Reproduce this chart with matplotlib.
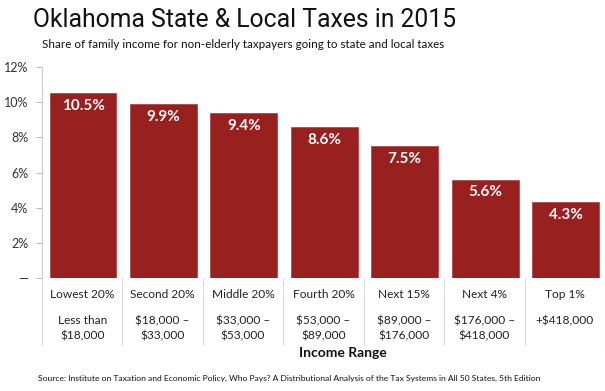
import matplotlib
matplotlib.use("Agg")
import matplotlib.pyplot as plt
from matplotlib.transforms import blended_transform_factory

groups = ["Lowest 20%", "Second 20%", "Middle 20%", "Fourth 20%", "Next 15%", "Next 4%", "Top 1%"]
ranges = ["Less than\n$18,000", "$18,000 \u2013\n$33,000", "$33,000 \u2013\n$53,000",
          "$53,000 \u2013\n$89,000", "$89,000 \u2013\n$176,000", "$176,000 \u2013\n$418,000", "+$418,000"]
values = [10.5, 9.9, 9.4, 8.6, 7.5, 5.6, 4.3]
yticks = [0, 2, 4, 6, 8, 10, 12]
yticklabels = ["\u2014", "2%", "4%", "6%", "8%", "10%", "12%"]

FONT = "Lato"
RED = "#98201f"
W, H = 605, 391

fig = plt.figure(figsize=(W / 100, H / 100), dpi=100)
fig.patch.set_facecolor("white")

left, right, bottom, top = 42, 605, 278, 67
ax = fig.add_axes([left / W, 1 - bottom / H, (right - left) / W, (bottom - top) / H])

x = list(range(len(values)))
ax.bar([i + 0.01 for i in x], values, width=0.83, color=RED, edgecolor="#b04a48", linewidth=0.6, zorder=2)
ax.set_xlim(-0.5, 6.5)
ax.set_ylim(0, 12)

for i, v in zip(x, values):
    ax.text(i + 0.01, v - 0.33, f"{v:.1f}%", ha="center", va="top", color="white",
            fontsize=11, fontweight="bold", family=FONT, zorder=3)

ax.set_yticks(yticks)
ax.set_yticklabels(yticklabels, family=FONT, fontsize=9, color="#333333")
ax.tick_params(axis="y", length=4, width=0.8, color="#bbbbbb", pad=6)
ax.set_xticks([])
for s in ["top", "right", "bottom"]:
    ax.spines[s].set_visible(False)
ax.spines["left"].set_color("#cccccc")
ax.spines["left"].set_linewidth(0.8)

# dividers below the axis
trans = blended_transform_factory(ax.transData, ax.transAxes)
ph = bottom - top
depth = (345 - 278) / ph
for b in [i - 0.5 for i in range(0, 8)]:
    ax.plot([b, b], [0, -depth], transform=trans, color="#dddddd", lw=0.8, clip_on=False)

for i in x:
    ax.text(i, -(295 - 278) / ph, groups[i], transform=trans, ha="center", va="center",
            fontsize=8.6, family=FONT, color="#222222")
    ax.text(i, -(315 - 278) / ph, ranges[i], transform=trans, ha="center", va="top",
            fontsize=8.6, family=FONT, color="#222222", linespacing=1.5)

fig.text(343 / W, 1 - 353 / H, "Income Range", ha="center", va="center", fontsize=10,
         fontweight="bold", family=FONT, color="#111111")
fig.text(38 / W, 1 - 378 / H,
         "Source: Institute on Taxation and Economic Policy, Who Pays? A Distributional Analysis of the Tax Systems in All 50 States, 5th Edition",
         ha="left", va="center", fontsize=6.1, family=FONT, color="#111111")
fig.text(33 / W, 1 - 20 / H, "Oklahoma State & Local Taxes in 2015", ha="left", va="center",
         fontsize=17.8, family="Roboto", color="#111111")
fig.text(42 / W, 1 - 45 / H, "Share of family income for non-elderly taxpayers going to state and local taxes",
         ha="left", va="center", fontsize=8.4, family=FONT, color="#111111")

fig.savefig("out.png", dpi=100, facecolor="white")
